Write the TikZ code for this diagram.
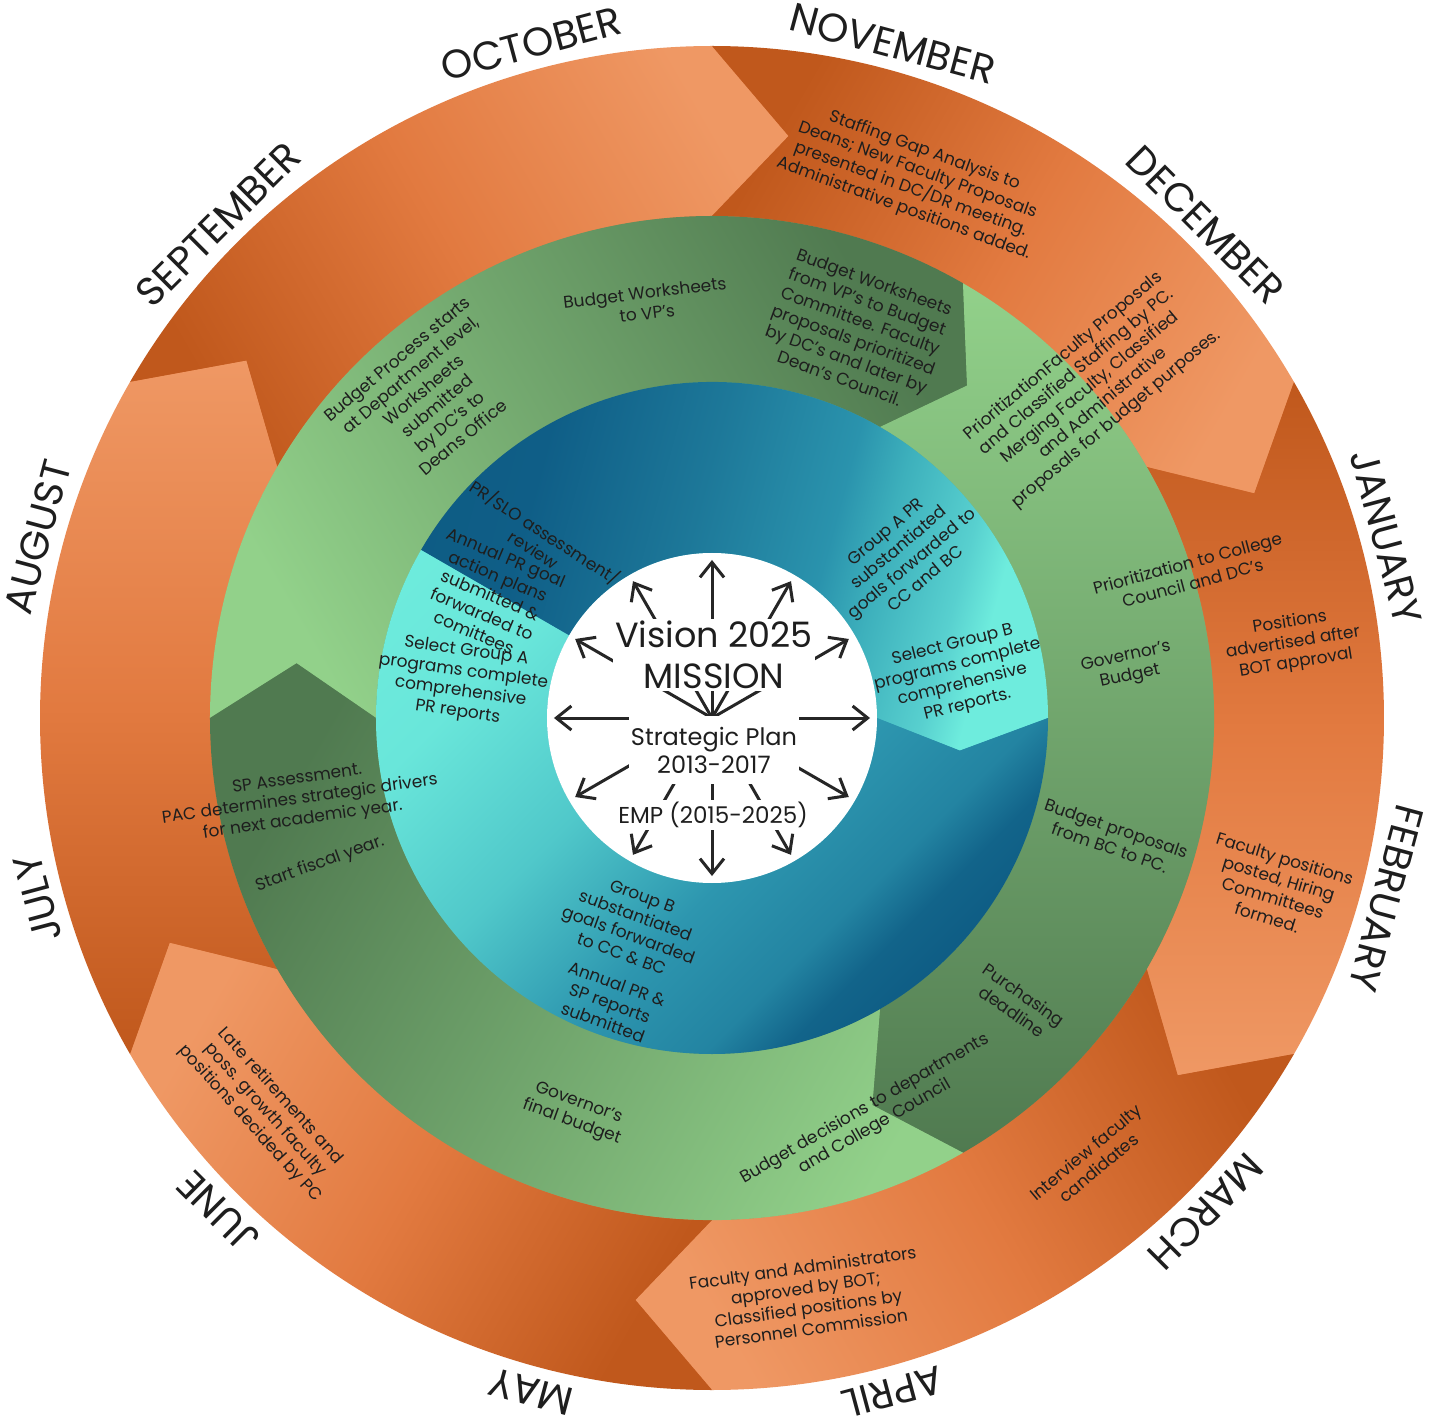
\documentclass[tikz,border=0pt]{standalone}
\usepackage{fontspec}
\setmainfont{Poppins}
\usetikzlibrary{arrows.meta}

\definecolor{orangeDark}{RGB}{192,88,28}
\definecolor{orangeMid}{RGB}{226,122,64}
\definecolor{orangeLight}{RGB}{239,152,100}
\definecolor{greenLight}{RGB}{146,209,138}
\definecolor{greenMid}{RGB}{110,165,105}
\definecolor{greenDark}{RGB}{80,122,80}
\definecolor{tealDark}{RGB}{14,92,132}
\definecolor{tealA}{RGB}{15,94,135}
\definecolor{tealB}{RGB}{29,120,153}
\definecolor{tealC}{RGB}{42,147,173}
\definecolor{tealD}{RGB}{61,176,188}
\definecolor{tealE}{RGB}{88,208,207}
\definecolor{tealF}{RGB}{18,100,138}
\definecolor{tealG}{RGB}{35,132,162}
\definecolor{tealH}{RGB}{45,150,175}
\definecolor{tealK}{RGB}{80,200,202}
\definecolor{tealM}{RGB}{105,230,218}
\definecolor{tealMid}{RGB}{58,174,188}
\definecolor{tealLight}{RGB}{110,236,221}
\definecolor{arrowGray}{RGB}{38,38,38}
\definecolor{ink}{RGB}{30,30,30}

\pgfdeclarehorizontalshading{tealtop}{100bp}{color(0bp)=(tealDark); color(25bp)=(tealDark);
    color(33bp)=(tealA); color(45bp)=(tealB); color(55bp)=(tealC); color(59bp)=(tealD);
    color(65bp)=(tealE); color(68bp)=(tealLight); color(100bp)=(tealLight)}
\pgfdeclarehorizontalshading{tealbottom}{100bp}{color(0bp)=(tealDark); color(25bp)=(tealDark);
    color(29bp)=(tealF); color(33bp)=(tealG); color(41bp)=(tealH); color(52bp)=(tealK);
    color(64bp)=(tealM); color(75bp)=(tealLight); color(100bp)=(tealLight)}

\begin{document}
\begin{tikzpicture}[x=1pt, y=1pt,
    month/.style = {font=\fontsize{40}{40}\selectfont, inner sep=0pt, text=ink},
    note/.style = {align=center, font=\fontsize{17}{20.5}\selectfont, inner sep=0pt, text=ink},
    core/.style = {fill=white, align=center, inner sep=2pt, text=ink},
    spoke/.style = {draw=arrowGray, line width=3pt, -{Straight Barb[length=15pt, width=24pt]}}]

    \useasboundingbox (-712,-698) rectangle (728,718);
    \fill[white] (-712,-698) rectangle (728,718);

    \fill[orangeMid] (0,0) circle[radius=671];
    \foreach \a [evaluate=\a as \s using \a-210] in {150,90,30,-30,-90,-150}
        \shade[top color=orangeLight, bottom color=orangeDark, middle color=orangeMid, shading angle=\s]
            (\a:672) arc[start angle=\a, end angle=\a-60, radius=672] -- (\a-67.5:587)
            -- (\a-60:502) arc[start angle=\a-60, end angle=\a, radius=502] -- (\a-7.5:587) -- cycle;

    \fill[greenMid] (0,0) circle[radius=501];
    \foreach \a [evaluate=\a as \s using \a-240] in {180,60,-60}
        \shade[top color=greenDark, bottom color=greenLight, shading angle=\s]
            (\a:502) arc[start angle=\a, end angle=\a-120, radius=502] -- (\a-127.5:419)
            -- (\a-120:336) arc[start angle=\a-120, end angle=\a, radius=336] -- (\a-7.5:419) -- cycle;

    \fill[tealMid] (0,0) circle[radius=335];
    \begin{scope}
        \clip (150:336) arc[start angle=150, end angle=0, radius=336] -- (-7.5:250) -- (0:165)
            arc[start angle=0, end angle=150, radius=165] -- cycle;
        \begin{scope}[transform canvas={rotate=-15}]
            \shade[shading=tealtop] (-340,-340) rectangle (340,340);
        \end{scope}
    \end{scope}
    \begin{scope}
        \clip (0:336) arc[start angle=0, end angle=-210, radius=336] -- (-210:165)
            arc[start angle=-210, end angle=0, radius=165] -- (-7.5:250) -- cycle;
        \begin{scope}[transform canvas={rotate=135}]
            \shade[shading=tealbottom] (-340,-340) rectangle (340,340);
        \end{scope}
    \end{scope}
    \fill[white] (0,0) circle[radius=165];

    \coordinate (hub) at (0,0);
    \foreach \t in {0,30,...,330} {
        \coordinate (tip\t) at (\t:158);
        \draw[spoke] (hub) -- (tip\t);
    }

    \node[core, font=\fontsize{35}{41}\selectfont] (vision) at (2,63) {Vision 2025\\MISSION};
    \node[core, font=\fontsize{24}{28}\selectfont, inner ysep=11pt] (plan) at (2,-32) {Strategic Plan\\2013-2017};
    \node[core, font=\fontsize{23}{28}\selectfont] (emp) at (1,-97) {EMP (2015-2025)};

    \foreach \m [count=\i] in {OCTOBER,NOVEMBER,DECEMBER,JANUARY,FEBRUARY,MARCH,APRIL,MAY,JUNE,JULY,AUGUST,SEPTEMBER}
        \node[month, rotate=45-30*\i] (m\i) at ({135-30*\i}:698) {\m};

    \node[note, rotate=-20] (staff) at (202,538) {Staffing Gap Analysis to\\Deans; New Faculty Proposals\\presented in DC/DR meeting.\\Administrative positions added.};
    \node[note, rotate=40] (merge) at (378,330) {PrioritizationFaculty Proposals\\and Classified Staffing by PC.\\Merging Faculty, Classified\\and Administrative\\proposals for budget purposes.};
    \node[note, rotate=15] (prio) at (478,145) {Prioritization to College\\Council and DC's};
    \node[note, rotate=9] (advert) at (581,75) {Positions\\advertised after\\BOT approval};
    \node[note, rotate=-17] (posted) at (564,-170) {Faculty positions\\posted, Hiring\\Committees\\formed.};
    \node[note, rotate=40] (interview) at (380,-442) {Interview faculty\\candidates};
    \node[note, rotate=8] (approved) at (95,-580) {Faculty and Administrators\\approved by BOT;\\Classified positions by\\Personnel Commission};
    \node[note, rotate=-48] (late) at (-447,-392) {Late retirements and\\poss. growth faculty\\positions decided by PC};

    \node[note, rotate=40] (bstart) at (-282,320) {Budget Process starts\\at Department level,\\Worksheets\\submitted\\by DC's to\\Deans Office};
    \node[note, rotate=7] (bvp) at (-66,415) {Budget Worksheets\\to VP's};
    \node[note, rotate=-20] (bcomm) at (145,388) {Budget Worksheets\\from VP's to Budget\\Committee. Faculty\\proposals prioritized\\by DC's and later by\\Dean's Council.};
    \node[note, rotate=12] (gov) at (416,51) {Governor's\\Budget};
    \node[note, rotate=-19] (bprop) at (401,-120) {Budget proposals\\from BC to PC.};
    \node[note, rotate=-35] (purch) at (306,-285) {Purchasing\\deadline};
    \node[note, rotate=30] (bdec) at (158,-400) {Budget decisions to departments\\and College Council};
    \node[note, rotate=-20] (govfin) at (-137,-395) {Governor's\\final budget};
    \node[note, rotate=8] (spa) at (-412,-82) {SP Assessment.\\PAC determines strategic drivers\\for next academic year.};
    \node[note, rotate=20] (fiscal) at (-392,-146) {Start fiscal year.};

    \node[note, rotate=-33] (prslo) at (-172,178) {PR/SLO assessment/\\review};
    \node[note, rotate=-23] (annA) at (-222,123) {Annual PR goal\\action plans\\submitted \&\\forwarded to\\comittees};
    \node[note, rotate=-8] (selA) at (-250,36) {Select Group A\\programs complete\\comprehensive\\PR reports};
    \node[note, rotate=40] (grpA) at (193,163) {Group A PR\\substantiated\\goals forwarded to\\CC and BC};
    \node[note, rotate=14] (selB) at (248,43) {Select Group B\\programs complete\\comprehensive\\PR reports.};
    \node[note, rotate=-20] (grpB) at (-80,-207) {Group B\\substantiated\\goals forwarded\\to CC \& BC};
    \node[note, rotate=-20] (annB) at (-102,-285) {Annual PR \&\\SP reports\\submitted};
\end{tikzpicture}
\end{document}
